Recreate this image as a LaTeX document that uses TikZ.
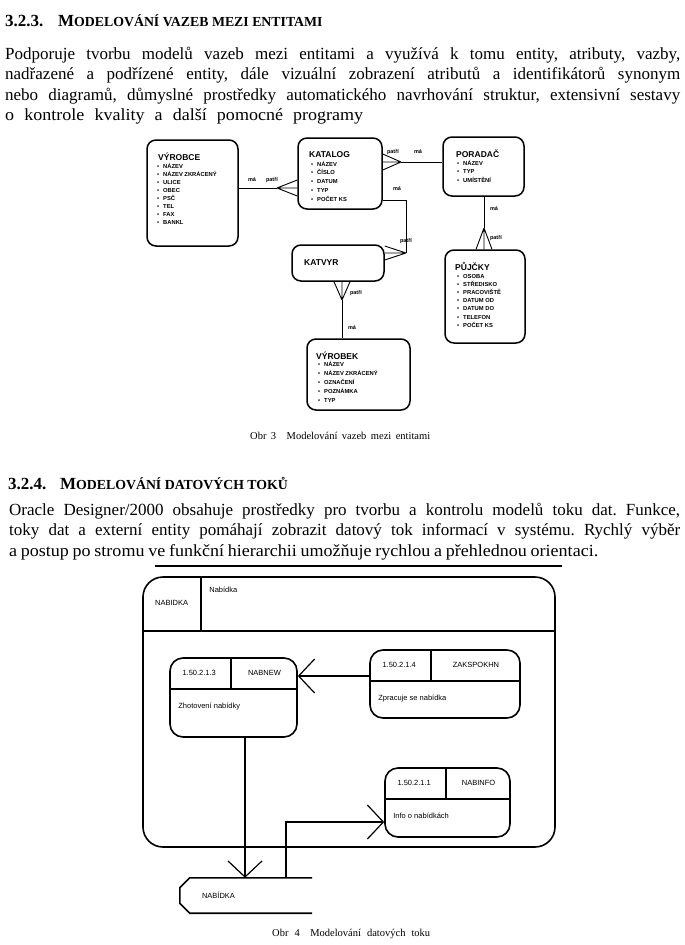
\documentclass[tikz,border=0pt]{standalone}
\usepackage{fontspec}
\setmainfont{Liberation Serif}
\newfontfamily\arial{Liberation Sans}
\usetikzlibrary{arrows.meta,positioning,calc}
\frenchspacing

\tikzset{
  head/.style={anchor=base west, inner sep=0pt, font=\bfseries\fontsize{13.8}{15}\selectfont},
  body/.style={anchor=base west, inner sep=0pt, font=\fontsize{17}{20}\selectfont},
  caption/.style={anchor=base west, inner sep=0pt, font=\fontsize{10.5}{12}\selectfont},
  entity/.style={draw, line width=1.5pt, rounded corners=9pt, inner sep=0pt},
  ehead/.style={anchor=base west, inner sep=0pt, font=\arial\bfseries\fontsize{8.5}{9}\selectfont},
  eitem/.style={anchor=base west, inner sep=0pt, font=\arial\bfseries\fontsize{5.8}{7}\selectfont},
  rel/.style={line width=0.9pt},
  rlabel/.style={inner sep=0pt, font=\arial\bfseries\fontsize{5.5}{6}\selectfont},
  frame/.style={draw, line width=1.6pt, rounded corners=20pt, inner sep=0pt},
  proc/.style={draw, line width=1.6pt, rounded corners=13pt, inner sep=0pt},
  divider/.style={line width=1.6pt},
  dfdtext/.style={inner sep=0pt, font=\arial\fontsize{7.5}{8}\selectfont},
  flow/.style={line width=1.2pt, -{Straight Barb[length=16pt,width=34pt]}}
}

% crow's foot: apex, middle point on the box, spread
\newcommand{\crowfoot}[3]{%
  \draw[rel] (#1) -- (#2) (#1) -- ($(#2)+(#3)$) (#1) -- ($(#2)-(#3)$);
}

% process box of the data flow diagram
\newcommand{\dfdproc}[7]{%
  \node[proc, minimum width=#3, minimum height=#4] (#1) at (#2) {};
  \draw[divider] ([yshift=-32pt]#1.north west) -- ([yshift=-32pt]#1.north east);
  \draw[divider] ([xshift=62pt]#1.north west) -- ([xshift=62pt,yshift=-32pt]#1.north west);
  \node[dfdtext] (#1-num) at ([xshift=30pt,yshift=-16pt]#1.north west) {#5};
  \node[dfdtext] (#1-id) at ($([xshift=62pt]#1.north west)!0.5!(#1.north east)+(0,16)$) {#6};
  \node[dfdtext, anchor=west] (#1-name) at ([xshift=9pt,yshift=-49pt]#1.north west) {#7};
}

\begin{document}
\begin{tikzpicture}[x=1pt, y=-1pt]
\useasboundingbox (0,0) rectangle (685,945);

% 3.2.3
\node[head, font=\bfseries\fontsize{17}{18}\selectfont] (h1num) at (5,26) {3.2.3.};
\node[head] (h1) at (58,26) {{\fontsize{17}{18}\selectfont M}ODELOVÁNÍ VAZEB MEZI ENTITAMI};

\node[body] (p1a) at (5,59) {\makebox[675pt][s]{Podporuje tvorbu modelů vazeb mezi entitami a využívá k tomu entity, atributy, vazby,}};
\node[body] (p1b) at (5,79.5) {\makebox[675pt][s]{nadřazené a podřízené entity, dále vizuální zobrazení atributů a identifikátorů synonym}};
\node[body] (p1c) at (5,100) {\makebox[675pt][s]{nebo diagramů, důmyslné prostředky automatického navrhování struktur, extensivní sestavy}};
\node[body] (p1d) at (5,120.5) {\addfontfeatures{FakeStretch=1.06}\makebox[358pt][s]{o kontrole kvality a další pomocné programy}};

% entities
\node[entity, minimum width=91pt, minimum height=106pt] (vyrobce) at (192.5,193) {};
\node[entity, minimum width=84pt, minimum height=71pt] (katalog) at (340,173.5) {};
\node[entity, minimum width=81pt, minimum height=59pt] (poradac) at (483.5,166.5) {};
\node[entity, minimum width=92pt, minimum height=36pt] (katvyr) at (338,263) {};
\node[entity, minimum width=80pt, minimum height=93pt] (pujcky) at (485,296.5) {};
\node[entity, minimum width=103pt, minimum height=71pt] (vyrobek) at (358.5,374.5) {};

\node[ehead] (vyrobce-h) at (158,160) {VÝROBCE};
\foreach \attr [count=\i] in {NÁZEV, NÁZEV ZKRÁCENÝ, ULICE, OBEC, PSČ, TEL, FAX, BANKL}
  \node[eitem] (vyrobce-\i) at (157,160+8*\i) {\textbullet\hspace{4pt}\attr};

\node[ehead] (katalog-h) at (309,157) {KATALOG};
\foreach \attr [count=\i] in {NÁZEV, ČÍSLO, DATUM, TYP, POČET KS}
  \node[eitem] (katalog-\i) at (311,157.2+8.8*\i) {\textbullet\hspace{4pt}\attr};

\node[ehead] (poradac-h) at (456,157) {PORADAČ};
\foreach \attr [count=\i] in {NÁZEV, TYP, UMÍSTĚNÍ}
  \node[eitem] (poradac-\i) at (457,156.5+8.5*\i) {\textbullet\hspace{4pt}\attr};

\node[ehead] (katvyr-h) at (304,265) {KATVYR};

\node[ehead] (pujcky-h) at (455,270) {PŮJČKY};
\foreach \attr [count=\i] in {OSOBA, STŘEDISKO, PRACOVIŠTĚ, DATUM OD, DATUM DO, TELEFON, POČET KS}
  \node[eitem] (pujcky-\i) at (457,269.8+8.2*\i) {\textbullet\hspace{4pt}\attr};

\node[ehead] (vyrobek-h) at (316,359) {VÝROBEK};
\foreach \attr [count=\i] in {NÁZEV, NÁZEV ZKRÁCENÝ, OZNAČENÍ, POZNÁMKA, TYP}
  \node[eitem] (vyrobek-\i) at (318,357+9*\i) {\textbullet\hspace{4pt}\attr};

% relations
\coordinate (a1) at (277,188);
\draw[rel] (vyrobce.east |- a1) -- (a1);
\crowfoot{a1}{katalog.west |- a1}{0,8}
\node[rlabel] (a1-ma) at (252,180) {má};
\node[rlabel] (a1-pat) at (272,180) {patří};

\coordinate (a2) at (401,162);
\crowfoot{a2}{katalog.east |- a2}{0,8}
\draw[rel] (a2) -- (poradac.west |- a2);
\node[rlabel] (a2-pat) at (393,152) {patří};
\node[rlabel] (a2-ma) at (418,152) {má};

\coordinate (a3) at (406,253);
\draw[rel] ([yshift=-26.5pt]katalog.east) -| (a3);
\crowfoot{a3}{katvyr.east |- a3}{0,7}
\node[rlabel] (a3-ma) at (397,189) {má};
\node[rlabel] (a3-pat) at (406,241) {patří};

\coordinate (a4) at (342,300);
\crowfoot{a4}{katvyr.south -| a4}{8,0}
\draw[rel] (a4) -- (vyrobek.north -| a4);
\node[rlabel] (a4-pat) at (356,293) {patří};
\node[rlabel] (a4-ma) at (352,328) {má};

\coordinate (a5) at (484,228);
\draw[rel] (poradac.south -| a5) -- (a5);
\crowfoot{a5}{pujcky.north -| a5}{8,0}
\node[rlabel] (a5-ma) at (494,209) {má};
\node[rlabel] (a5-pat) at (496,238) {patří};

\node[caption] (obr3) at (250,439) {\makebox[180pt][s]{Obr 3\quad Modelování vazeb mezi entitami}};

% 3.2.4
\node[head, font=\bfseries\fontsize{17}{18}\selectfont] (h2num) at (8,489) {3.2.4.};
\node[head] (h2) at (60,489) {{\fontsize{17}{18}\selectfont M}ODELOVÁNÍ DATOVÝCH TOKŮ};

\node[body] (p2a) at (9,515) {\makebox[671pt][s]{Oracle Designer/2000 obsahuje prostředky pro tvorbu a kontrolu modelů toku dat. Funkce,}};
\node[body] (p2b) at (9,535.5) {\makebox[671pt][s]{toky dat a externí entity pomáhají zobrazit datový tok informací v systému. Rychlý výběr}};
\node[body] (p2c) at (9,556) {\addfontfeatures{FakeStretch=1.06}\makebox[589pt][s]{a postup po stromu ve funkční hierarchii umožňuje rychlou a přehlednou orientaci.}};
\draw[line width=1.2pt] (155,566) -- (562,566);

% data flow diagram
\node[frame, minimum width=412pt, minimum height=270pt] (nabidka) at (349,712) {};
\draw[divider] ([yshift=-55pt]nabidka.north west) -- ([yshift=-55pt]nabidka.north east);
\draw[divider] ([xshift=59pt]nabidka.north west) -- ([xshift=59pt,yshift=-55pt]nabidka.north west);
\node[dfdtext] (nabidka-id) at ([xshift=29.5pt,yshift=-27pt]nabidka.north west) {NABIDKA};
\node[dfdtext, anchor=north west] (nabidka-name) at ([xshift=67pt,yshift=-11pt]nabidka.north west) {Nabídka};

\dfdproc{zhot}{233.5,697.5}{127pt}{79pt}{1.50.2.1.3}{NABNEW}{Zhotovení nabídky}
\dfdproc{zaksp}{445,684}{150pt}{68pt}{1.50.2.1.4}{ZAKSPOKHN}{Zpracuje se nabídka}
\dfdproc{info}{447.5,802.5}{125pt}{69pt}{1.50.2.1.1}{NABINFO}{Info o nabídkách}

\node[minimum width=132pt, minimum height=35pt, inner sep=0pt] (store) at (246,895.5) {};
\draw[divider] (store.north east) -- ([xshift=10pt]store.north west) -- ([yshift=-10pt]store.north west)
  -- ([yshift=10pt]store.south west) -- ([xshift=10pt]store.south west) -- (store.south east);
\node[dfdtext, anchor=west] (store-name) at ([xshift=22pt]store.west) {NABÍDKA};

\coordinate (f1) at ([xshift=11.5pt]zhot.south);
\draw[flow] (f1) -- (f1 |- store.north);
\coordinate (f2) at ([xshift=40pt]store.north);
\coordinate (f2e) at ([yshift=-19.5pt]info.west);
\draw[flow] (f2) |- (f2e);
\coordinate (f3) at ([yshift=8pt]zaksp.west);
\draw[flow] (f3) -- (zhot.east |- f3);

\node[caption] (obr4) at (272,936) {\makebox[158pt][s]{Obr 4\quad Modelování datových toku}};
\end{tikzpicture}
\end{document}
